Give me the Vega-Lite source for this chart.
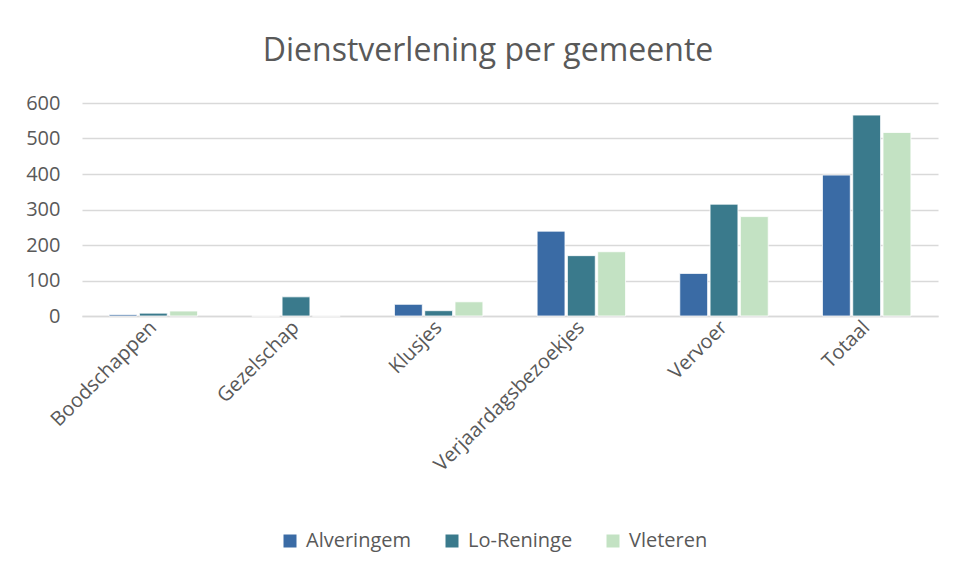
{
  "$schema": "https://vega.github.io/schema/vega-lite/v6.json",
  "width": 856,
  "height": 213,
  "autosize": {"type": "none"},
  "padding": {"left": 82, "top": 103, "right": 19, "bottom": 259},
  "background": "white",
  "title": {
    "text": "Dienstverlening per gemeente",
    "anchor": "middle",
    "frame": "group",
    "dx": -22,
    "offset": 25,
    "font": "Open Sans",
    "fontSize": 32,
    "fontWeight": "normal",
    "color": "#595959"
  },
  "data": {
    "values": [
      {"categorie": "Boodschappen", "gemeente": "Alveringem", "aantal": 4},
      {"categorie": "Boodschappen", "gemeente": "Lo-Reninge", "aantal": 8},
      {"categorie": "Boodschappen", "gemeente": "Vleteren", "aantal": 14},
      {"categorie": "Gezelschap", "gemeente": "Alveringem", "aantal": 0},
      {"categorie": "Gezelschap", "gemeente": "Lo-Reninge", "aantal": 54},
      {"categorie": "Gezelschap", "gemeente": "Vleteren", "aantal": 0},
      {"categorie": "Klusjes", "gemeente": "Alveringem", "aantal": 33},
      {"categorie": "Klusjes", "gemeente": "Lo-Reninge", "aantal": 15},
      {"categorie": "Klusjes", "gemeente": "Vleteren", "aantal": 40},
      {"categorie": "Verjaardagsbezoekjes", "gemeente": "Alveringem", "aantal": 239},
      {"categorie": "Verjaardagsbezoekjes", "gemeente": "Lo-Reninge", "aantal": 170},
      {"categorie": "Verjaardagsbezoekjes", "gemeente": "Vleteren", "aantal": 181},
      {"categorie": "Vervoer", "gemeente": "Alveringem", "aantal": 120},
      {"categorie": "Vervoer", "gemeente": "Lo-Reninge", "aantal": 315},
      {"categorie": "Vervoer", "gemeente": "Vleteren", "aantal": 280},
      {"categorie": "Totaal", "gemeente": "Alveringem", "aantal": 397},
      {"categorie": "Totaal", "gemeente": "Lo-Reninge", "aantal": 566},
      {"categorie": "Totaal", "gemeente": "Vleteren", "aantal": 517}
    ]
  },
  "mark": {"type": "bar", "stroke": "white", "strokeWidth": 0.8},
  "encoding": {
    "x": {
      "field": "categorie",
      "type": "nominal",
      "sort": null,
      "scale": {"paddingInner": 0.38, "paddingOuter": 0.19},
      "axis": {
        "title": null,
        "labelAngle": -45,
        "labelAlign": "right",
        "labelBaseline": "middle",
        "labelFont": "Open Sans",
        "labelFontSize": 20,
        "labelColor": "#595959",
        "labelPadding": 8,
        "labelLimit": 400,
        "ticks": false,
        "domainColor": "#D9D9D9",
        "domainWidth": 1.5,
        "grid": false
      }
    },
    "xOffset": {
      "field": "gemeente",
      "type": "nominal",
      "scale": {"paddingInner": 0.08}
    },
    "y": {
      "field": "aantal",
      "type": "quantitative",
      "scale": {"domain": [0, 600], "nice": false},
      "axis": {
        "title": null,
        "values": [0, 100, 200, 300, 400, 500, 600],
        "labelFont": "Open Sans",
        "labelFontSize": 20,
        "labelColor": "#595959",
        "labelPadding": 22,
        "ticks": false,
        "domain": false,
        "gridColor": "#D9D9D9",
        "gridWidth": 1.5
      }
    },
    "color": {
      "field": "gemeente",
      "type": "nominal",
      "scale": {
        "domain": ["Alveringem", "Lo-Reninge", "Vleteren"],
        "range": ["#3A6BA5", "#3A7A8C", "#C3E2C3"]
      },
      "legend": {
        "title": null,
        "orient": "none",
        "direction": "horizontal",
        "legendX": 198,
        "legendY": 428,
        "symbolType": "square",
        "symbolSize": 169,
        "symbolStrokeWidth": 0,
        "labelFont": "Open Sans",
        "labelFontSize": 20,
        "labelColor": "#595959",
        "labelOffset": 6,
        "columnPadding": 30
      }
    }
  },
  "config": {"view": {"stroke": null}}
}
